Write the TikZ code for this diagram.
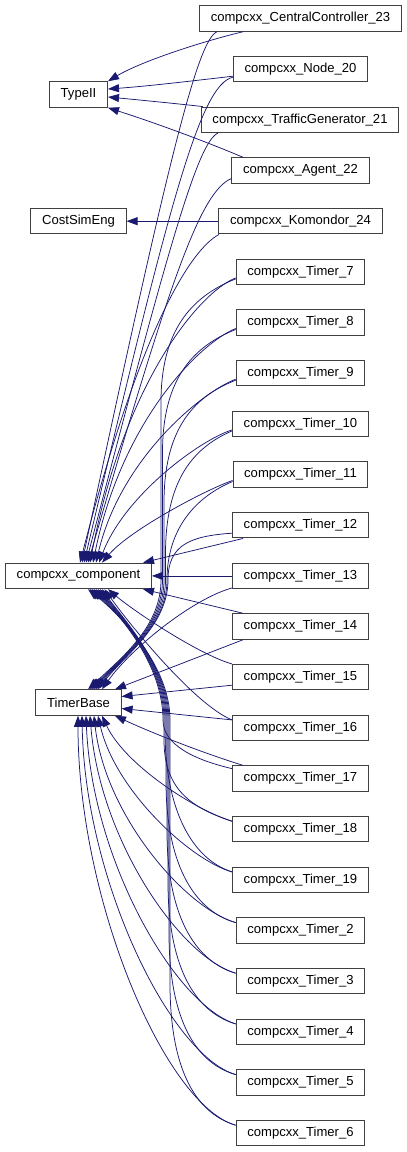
\documentclass[tikz,border=0pt]{standalone}
\usepackage{fontspec}
\setmainfont{Liberation Sans}
\usetikzlibrary{arrows.meta,calc}
\definecolor{edgeblue}{HTML}{191970}
\definecolor{boxline}{HTML}{404040}
\begin{document}
\begin{tikzpicture}[x=1pt,y=-1pt,
  cls/.style={draw=boxline, line width=1pt, fill=white, inner xsep=11.2pt, inner ysep=0pt,
    minimum height=25.5pt, font=\fontsize{13.07}{15}\selectfont},
  inh/.style={draw=edgeblue, line width=0.75pt, -{Triangle[length=11pt,width=8pt]}}]
\useasboundingbox (0,0) rectangle (407,1152);
% right column
\node[cls] (cc23) at (300.5,18.5) {compcxx\_CentralController\_23};
\node[cls] (n20) at (300.5,69.2) {compcxx\_Node\_20};
\node[cls] (tg21) at (300,119.8) {compcxx\_TrafficGenerator\_21};
\node[cls] (ag22) at (300.5,170.5) {compcxx\_Agent\_22};
\node[cls] (kom) at (300.5,221.2) {compcxx\_Komondor\_24};
\node[cls] (t7) at (300.5,271.9) {compcxx\_Timer\_7};
\node[cls] (t8) at (300.5,322.5) {compcxx\_Timer\_8};
\node[cls] (t9) at (300.5,373.2) {compcxx\_Timer\_9};
\node[cls] (t10) at (300.5,423.9) {compcxx\_Timer\_10};
\node[cls] (t11) at (300.5,474.5) {compcxx\_Timer\_11};
\node[cls] (t12) at (300.5,525.2) {compcxx\_Timer\_12};
\node[cls] (t13) at (300.5,575.9) {compcxx\_Timer\_13};
\node[cls] (t14) at (300.5,626.5) {compcxx\_Timer\_14};
\node[cls] (t15) at (300.5,677.2) {compcxx\_Timer\_15};
\node[cls] (t16) at (300.5,727.9) {compcxx\_Timer\_16};
\node[cls] (t17) at (300.5,778.6) {compcxx\_Timer\_17};
\node[cls] (t18) at (300.5,829.2) {compcxx\_Timer\_18};
\node[cls] (t19) at (300.5,879.9) {compcxx\_Timer\_19};
\node[cls] (t2) at (300.5,930.6) {compcxx\_Timer\_2};
\node[cls] (t3) at (300.5,981.2) {compcxx\_Timer\_3};
\node[cls] (t4) at (300.5,1031.9) {compcxx\_Timer\_4};
\node[cls] (t5) at (300.5,1082.6) {compcxx\_Timer\_5};
\node[cls] (t6) at (300.5,1133.2) {compcxx\_Timer\_6};
% left column
\node[cls] (typeii) at (78.5,94.5) {TypeII};
\node[cls] (cse) at (78.5,221.2) {CostSimEng};
\node[cls] (cc) at (78.5,575.9) {compcxx\_component};
\node[cls] (tb) at (78.5,702.5) {TimerBase};

% ---- to TypeII
\draw[inh] ([xshift=-57.5pt]cc23.south) .. controls (200,42) and (140,62) .. (typeii.north east);
\draw[inh] ([yshift=-7pt]n20.west) .. controls (200,80) and (150,86) .. ([yshift=5.5pt]typeii.east);
\draw[inh] ([xshift=2pt]tg21.north west) .. controls (180,104) and (140,100) .. ([yshift=-2.5pt]typeii.east);
\draw[inh] ([xshift=-57.5pt]ag22.north) .. controls (190,135) and (140,118) .. (typeii.south east);
% ---- to CostSimEng
\draw[inh] (kom.west) -- (cse.east);

% ---- upper classes to compcxx_component (top)
\draw[inh] ([xshift=-83.5pt]cc23.south) .. controls (198,40) and (170,150) .. ([xshift=3.5pt]cc.north);
\draw[inh] ([yshift=-8pt]n20.west) .. controls (200,85) and (170,200) .. ([xshift=5.5pt]cc.north);
\draw[inh] ([xshift=-82pt]tg21.south) .. controls (198,142) and (170,240) .. ([xshift=7.5pt]cc.north);
\draw[inh] ([yshift=-8pt]ag22.west) .. controls (200,192) and (170,280) .. ([xshift=9.5pt]cc.north);
\draw[inh] ([xshift=-81.5pt]kom.south) .. controls (190,250) and (140,330) .. ([xshift=1.5pt]cc.north);
\draw[inh] ([yshift=-6pt]t7.west) .. controls (200,292) and (125,380) .. ([xshift=11.5pt]cc.north);
\draw[inh] ([yshift=-6pt]t8.west) .. controls (200,343) and (122,420) .. ([xshift=14.5pt]cc.north);
\draw[inh] ([yshift=-6pt]t9.west) .. controls (200,393) and (120,460) .. ([xshift=17.5pt]cc.north);
\draw[inh] ([yshift=-6pt]t10.west) .. controls (200,440) and (125,495) .. ([xshift=20.5pt]cc.north);
\draw[inh] ([yshift=-6pt]t11.west) .. controls (205,490) and (130,530) .. ([xshift=23.5pt]cc.north);
\draw[inh] ([xshift=-57.5pt]t12.south) -- ([xshift=64.5pt]cc.north);
\draw[inh] (t13.west) -- (cc.east);
\draw[inh] ([xshift=-57.5pt]t14.north) -- ([xshift=64.5pt]cc.south);
\draw[inh] (t15.north west) .. controls (200,655) and (135,612) .. ([xshift=29.5pt]cc.south);
\draw[inh] ([yshift=8pt]t16.west) .. controls (195,705) and (130,625) .. ([xshift=26pt]cc.south);

% ---- upper timers to TimerBase (top) via bundle right of compcxx_component
\draw[inh] ([yshift=-7pt]t7.west) .. controls (190,297) and (161,332) .. (161,402) -- (161,580) .. controls (161,625) and (125,655) .. ([xshift=9.5pt]tb.north);
\draw[inh] ([yshift=-7pt]t8.west) .. controls (190,347.5) and (162.5,382.5) .. (162.5,452.5) -- (162.5,580) .. controls (162.5,625) and (125,655) .. ([xshift=11.5pt]tb.north);
\draw[inh] ([yshift=-7pt]t9.west) .. controls (190,398) and (164,433) .. (164,503) -- (164,580) .. controls (164,625) and (125,655) .. ([xshift=13.5pt]tb.north);
\draw[inh] ([yshift=-7pt]t10.west) .. controls (190,449) and (165.5,484) .. (165.5,554) -- (165.5,580) .. controls (165.5,625) and (125,655) .. ([xshift=15.5pt]tb.north);
\draw[inh] ([yshift=-7pt]t11.west) .. controls (190,499.5) and (167,534.5) .. (167,580) .. controls (167,625) and (125,655) .. ([xshift=17.5pt]tb.north);
\draw[inh] ([yshift=-8pt]t12.west) .. controls (190,536) and (168,545) .. (168,580) .. controls (168,625) and (125,655) .. ([xshift=19.5pt]tb.north);
\draw[inh] ([yshift=-12pt]t13.west) .. controls (190,600) and (130,650) .. ([xshift=23.5pt]tb.north);
\draw[inh] ([xshift=-57.5pt]t14.south) -- ([xshift=36.5pt]tb.north);
\draw[inh] ([yshift=-8pt]t15.west) -- ([yshift=6pt]tb.east);
\draw[inh] ([yshift=8pt]t16.west) -- ([yshift=-6pt]tb.east);
\draw[inh] ([xshift=-57.5pt]t17.north) .. controls (200,752) and (150,732) .. ([xshift=36.5pt]tb.south);

% ---- lower timers to compcxx_component (bottom) via bundle right of TimerBase
\draw[inh] ([yshift=10pt]t17.west) .. controls (195,760) and (163,745) .. (163,720) .. controls (163,665) and (120,615) .. ([xshift=13.5pt]cc.south);
\draw[inh] ([yshift=8pt]t18.west) .. controls (192,808) and (164,790) .. (164,740) -- (164,720) .. controls (164,665) and (120,615) .. ([xshift=15.5pt]cc.south);
\draw[inh] ([yshift=8pt]t19.west) .. controls (192,859) and (165,810) .. (165,730) -- (165,720) .. controls (165,665) and (120,615) .. ([xshift=17.5pt]cc.south);
\draw[inh] ([yshift=8pt]t2.west) .. controls (192,910) and (166,861) .. (166,781) -- (166,720) .. controls (166,665) and (120,615) .. ([xshift=19.5pt]cc.south);
\draw[inh] ([yshift=8pt]t3.west) .. controls (192,960) and (167,911) .. (167,831) -- (167,720) .. controls (167,665) and (120,615) .. ([xshift=21.5pt]cc.south);
\draw[inh] ([yshift=8pt]t4.west) .. controls (192,1011) and (168,962) .. (168,882) -- (168,720) .. controls (168,665) and (120,615) .. ([xshift=23.5pt]cc.south);
\draw[inh] ([yshift=8pt]t5.west) .. controls (192,1062) and (169,1013) .. (169,933) -- (169,720) .. controls (169,665) and (120,615) .. ([xshift=11.5pt]cc.south);
\draw[inh] ([yshift=8pt]t6.west) .. controls (192,1112) and (170,1063) .. (170,983) -- (170,720) .. controls (170,665) and (120,615) .. ([xshift=9.5pt]cc.south);

% ---- lower timers to TimerBase (bottom)
\draw[inh] ([yshift=8pt]t18.west) .. controls (195,810) and (125,765) .. ([xshift=23.5pt]tb.south);
\draw[inh] ([yshift=8pt]t19.west) .. controls (190,860) and (115,790) .. ([xshift=19.5pt]tb.south);
\draw[inh] ([yshift=8pt]t2.west) .. controls (185,908) and (105,815) .. ([xshift=15.5pt]tb.south);
\draw[inh] ([yshift=8pt]t3.west) .. controls (180,957) and (100,840) .. ([xshift=11.5pt]tb.south);
\draw[inh] ([yshift=8pt]t4.west) .. controls (175,1005) and (92,860) .. ([xshift=7.5pt]tb.south);
\draw[inh] ([yshift=8pt]t5.west) .. controls (170,1055) and (85,880) .. ([xshift=3.5pt]tb.south);
\draw[inh] ([yshift=8pt]t6.west) .. controls (165,1105) and (78,900) .. ([xshift=-0.5pt]tb.south);
\end{tikzpicture}
\end{document}
